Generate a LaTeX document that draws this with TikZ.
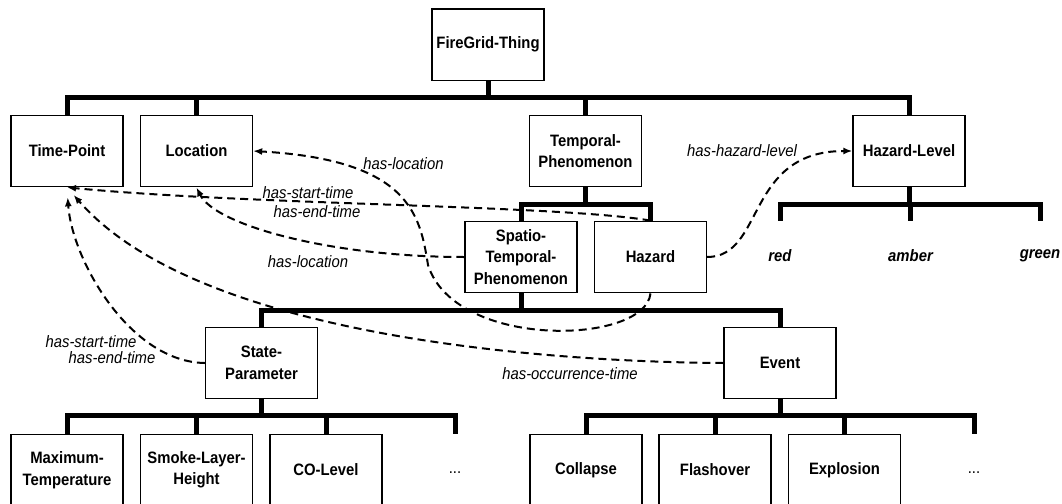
\documentclass[tikz,border=0pt]{standalone}
\usepackage{fontspec}
\setmainfont[FakeStretch=0.9]{Liberation Sans}
\usetikzlibrary{arrows.meta}
\tikzset{
  box/.style={draw, line width=1.3pt, fill=white, minimum width=112pt, minimum height=71.5pt,
    inner sep=0pt, align=center, font=\bfseries\fontsize{16.5}{21.5}\selectfont},
  bus/.style={line width=5pt, line join=miter},
  rel/.style={line width=2pt, dash pattern=on 8pt off 5pt,
    -{Latex[length=9pt,width=7pt]}},
  lbl/.style={inner sep=0pt, font=\itshape\fontsize{16.5}{18}\selectfont},
  lvl/.style={inner sep=0pt, font=\bfseries\itshape\fontsize{16.5}{18}\selectfont},
  dotsnode/.style={inner sep=0pt, font=\fontsize{16.5}{18}\selectfont}
}
\begin{document}
\begin{tikzpicture}[x=1pt,y=-1pt]
\useasboundingbox (0,0) rectangle (1062,503);
\clip (0,0) rectangle (1062,503);
% bus levels
\coordinate (b1) at (0,97.7);
\coordinate (b2) at (0,204);
\coordinate (b3) at (0,310.5);
\coordinate (b4) at (0,415);
% nodes
\node[box] (fg)  at (488,44.7)  {FireGrid-Thing};
\node[box] (tp)  at (67,151)    {Time-Point};
\node[box] (loc) at (196.5,151) {Location};
\node[box] (tmp) at (585.5,151) {Temporal-\\Phenomenon};
\node[box] (hl)  at (909,151)   {Hazard-Level};
\node[box] (stp) at (521,257)   {Spatio-\\Temporal-\\Phenomenon};
\node[box] (haz) at (650.5,257) {Hazard};
\node[box] (sp)  at (261.5,363) {State-\\Parameter};
\node[box] (ev)  at (780,363)   {Event};
\node[box] (mt)  at (67,470)    {Maximum-\\Temperature};
\node[box] (sl)  at (196.5,470) {Smoke-Layer-\\Height};
\node[box] (co)  at (326,470)   {CO-Level};
\node[dotsnode] (dots1) at (455,473) {...};
\node[box] (col) at (586,470)   {Collapse};
\node[box] (fla) at (715,470)   {Flashover};
\node[box] (exp) at (844.5,470) {Explosion};
\node[dotsnode] (dots2) at (974,473) {...};
\coordinate (d1) at (455,434);
\coordinate (d2) at (974,434);
\coordinate (r1) at (780,220.7);
\coordinate (r2) at (910,220.7);
\coordinate (r3) at (1040,220.7);
\node[lvl] (red)   at (780,256)   {red};
\node[lvl] (amber) at (910.5,256) {amber};
\node[lvl] (green) at (1040,256)  {green};
% tree buses
\draw[bus] (fg.south) -- (fg.south |- b1);
\draw[bus] (tp.north) |- (b1 -| hl.north) -- (hl.north);
\draw[bus] (loc.north) -- (loc.north |- b1);
\draw[bus] (tmp.north) -- (tmp.north |- b1);
\draw[bus] (tmp.south) -- (tmp.south |- b2);
\draw[bus] (stp.north) |- (b2 -| haz.north) -- (haz.north);
\draw[bus] (hl.south) -- (hl.south |- b2);
\draw[bus] (r1) |- (b2 -| r3) -- (r3);
\draw[bus] (r2) -- (r2 |- b2);
\draw[bus] (stp.south) -- (stp.south |- b3);
\draw[bus] (sp.north) |- (b3 -| ev.north) -- (ev.north);
\draw[bus] (sp.south) -- (sp.south |- b4);
\draw[bus] (mt.north) |- (b4 -| d1) -- (d1);
\draw[bus] (sl.north) -- (sl.north |- b4);
\draw[bus] (co.north) -- (co.north |- b4);
\draw[bus] (ev.south) -- (ev.south |- b4);
\draw[bus] (col.north) |- (b4 -| d2) -- (d2);
\draw[bus] (fla.north) -- (fla.north |- b4);
\draw[bus] (exp.north) -- (exp.north |- b4);
% relations
\draw[rel] (haz.east) .. controls (765,257) and (745,151) .. (hl.west);
\draw[rel] (haz.south) .. controls (645,345) and (455,350) .. (428,265)
           .. controls (420,215) and (410,160) .. (loc.east);
\draw[rel] (stp.west) .. controls (330,257) and (215,225) .. (loc.south);
\draw[rel] (haz.north) .. controls (560,205) and (250,205) .. (tp.south);
\draw[rel, shorten >=10pt] (sp.west) .. controls (130,362) and (72,260) .. (tp.south);
\draw[rel, shorten >=10pt] (ev.west) .. controls (560,362) and (200,340) .. (tp.south);
% labels
\node[lbl] (l1) at (742,151)   {has-hazard-level};
\node[lbl] (l2) at (403.5,164) {has-location};
\node[lbl] (l3) at (308,262)   {has-location};
\node[lbl] (l4) at (308,193)   {has-start-time};
\node[lbl] (l5) at (317,212)   {has-end-time};
\node[lbl] (l6) at (91,342)    {has-start-time};
\node[lbl] (l7) at (112,357.5) {has-end-time};
\node[lbl] (l8) at (570,374)   {has-occurrence-time};
\end{tikzpicture}
\end{document}
